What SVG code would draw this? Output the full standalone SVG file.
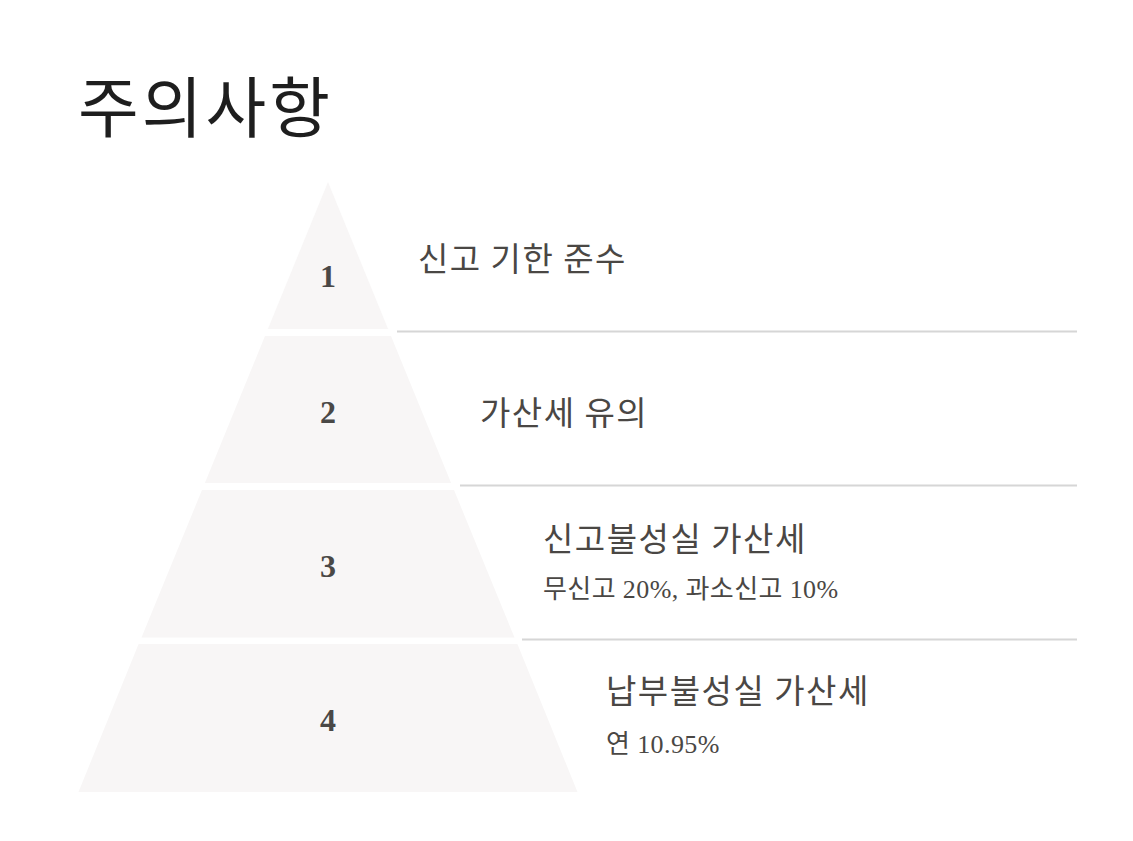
<svg xmlns="http://www.w3.org/2000/svg" width="1133" height="841" viewBox="0 0 1133 841">
<style>
.seg{fill:#f8f6f6}
.num{font-family:"Liberation Serif","Noto Sans CJK KR",serif;font-weight:bold;font-size:32px;fill:#4a4846;text-anchor:middle}
.head{font-family:"Noto Sans CJK KR","Noto Sans",sans-serif;font-size:33px;letter-spacing:1.5px;fill:#4a4744}
.sub{font-family:"Liberation Serif","Noto Sans CJK KR",serif;font-size:26px;letter-spacing:0.4px;fill:#4a4744}
.rule{stroke:#d6d6d6;stroke-width:2;fill:none}
.title{font-family:"Noto Sans CJK KR","Noto Sans",sans-serif;font-size:66px;letter-spacing:3px;fill:#1e1e1e}
</style>
<rect width="1133" height="841" fill="#ffffff"/>
<text class="title" x="78" y="132">주의사항</text>
<g id="connectors">
<line class="rule" x1="397" y1="331.5" x2="1077" y2="331.5"/>
<line class="rule" x1="460" y1="485.5" x2="1077" y2="485.5"/>
<line class="rule" x1="522" y1="639.5" x2="1077" y2="639.5"/>
</g>
<g id="level1">
<polygon class="seg" points="328,182 388.1,329 267.9,329"/>
<text class="num" x="328" y="287">1</text>
<text class="head" x="418" y="271">신고 기한 준수</text>
</g>
<g id="level2">
<polygon class="seg" points="265,336 391,336 451.1,483 204.9,483"/>
<text class="num" x="328" y="423">2</text>
<text class="head" x="480" y="425">가산세 유의</text>
</g>
<g id="level3">
<polygon class="seg" points="202,490 454,490 514.5,637.5 141.5,637.5"/>
<text class="num" x="328" y="577">3</text>
<text class="head" x="543" y="551">신고불성실 가산세</text>
<text class="sub" x="543" y="598">무신고 20%, 과소신고 10%</text>
</g>
<g id="level4">
<polygon class="seg" points="138.6,644 517.4,644 577.5,792 78.5,792"/>
<text class="num" x="328" y="731">4</text>
<text class="head" x="606" y="703">납부불성실 가산세</text>
<text class="sub" x="606" y="753">연 10.95%</text>
</g>
</svg>
